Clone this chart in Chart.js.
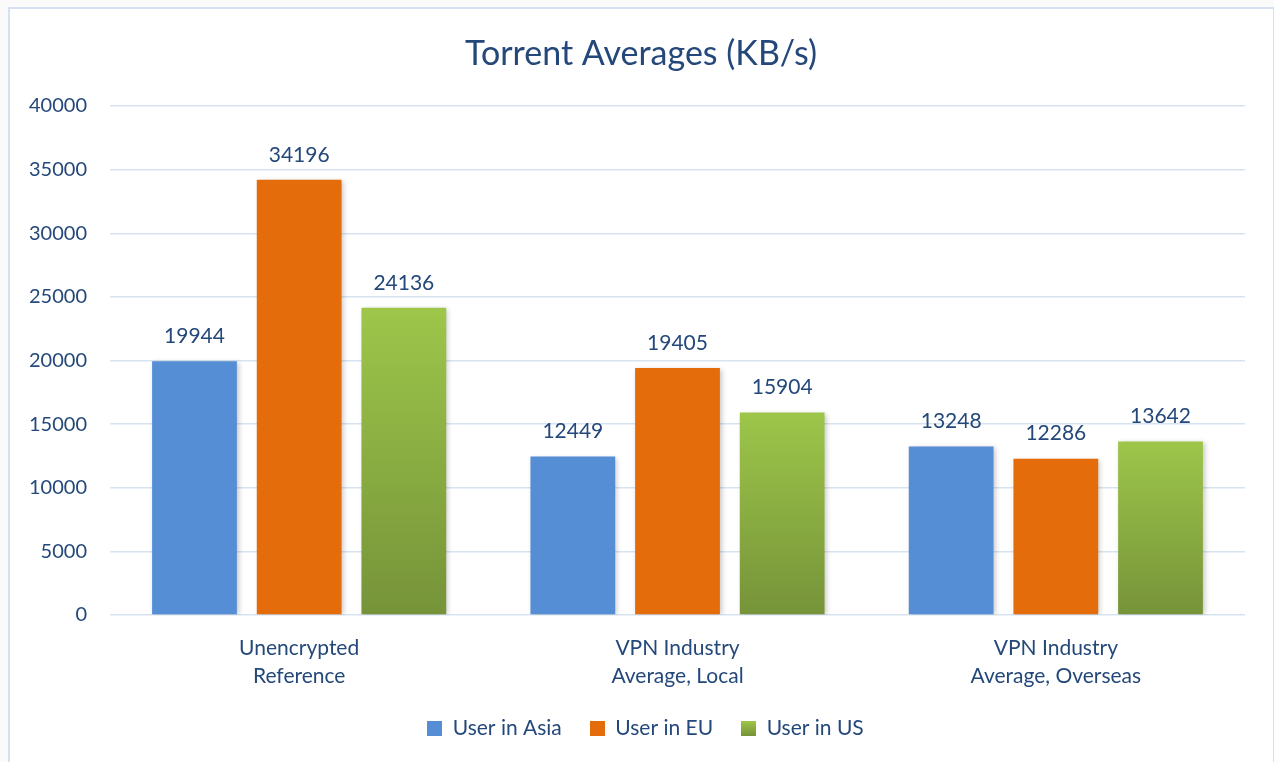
<!DOCTYPE html>
<html>
<head>
<meta charset="utf-8">
<script src="https://cdn.jsdelivr.net/npm/chart.js@4"></script>
<style>
  html, body { margin: 0; padding: 0; background: #fafafa; }
  #frame { position: absolute; left: 0; top: 0; width: 1274px; height: 762px; background: #fafafa; overflow: hidden; }
  #box { position: absolute; left: 8px; top: 7px; width: 1263px; height: 770px; border: 2px solid #d5e1f0; background: #ffffff; }
  #wrap { position: absolute; left: 0; top: 0; width: 1274px; height: 762px; }
</style>
</head>
<body>
<div id="frame">
  <div id="box"></div>
  <div id="wrap"><canvas id="c" width="1274" height="762"></canvas></div>
</div>
<script>
const categories = [["Unencrypted", "Reference"], ["VPN Industry", "Average, Local"], ["VPN Industry", "Average, Overseas"]];
const seriesNames = ["User in Asia", "User in EU", "User in US"];
const asiaValues = [19944, 12449, 13248];
const euValues = [34196, 19405, 12286];
const usValues = [24136, 15904, 13642];
const yTicks = [0, 5000, 10000, 15000, 20000, 25000, 30000, 35000, 40000];
const chartTitle = "Torrent Averages (KB/s)";

const FONT = "Lato, 'Open Sans', sans-serif";
const TEXT = "#24487a";
const GREEN_TOP = '#9dc64a';
const GREEN_BOTTOM = '#769339';

function greenGradient(ctx) {
  const chart = ctx.chart;
  if (!chart.chartArea || ctx.type !== 'data') return '#8db243';
  const y = chart.scales.y;
  const top = y.getPixelForValue(ctx.raw);
  const base = y.getPixelForValue(0);
  const g = chart.ctx.createLinearGradient(0, top, 0, base);
  g.addColorStop(0, GREEN_TOP);
  g.addColorStop(1, GREEN_BOTTOM);
  return g;
}

function swatch(fill, gradient) {
  const cv = document.createElement('canvas');
  cv.width = 15; cv.height = 15;
  const c = cv.getContext('2d');
  if (gradient) {
    const g = c.createLinearGradient(0, 0, 0, 15);
    g.addColorStop(0, GREEN_TOP);
    g.addColorStop(1, GREEN_BOTTOM);
    c.fillStyle = g;
  } else {
    c.fillStyle = fill;
  }
  c.fillRect(0, 0, 15, 15);
  return cv;
}
const swatches = [swatch('#558ed5'), swatch('#e46c0a'), swatch(null, true)];

const titlePlugin = {
  id: 'titleDraw',
  afterDraw(chart) {
    const c = chart.ctx;
    c.save();
    c.font = "34px " + FONT;
    c.fillStyle = TEXT;
    c.textAlign = 'center';
    c.textBaseline = 'middle';
    c.fillText(chartTitle, 641, 54);
    c.restore();
  }
};

const shadowPlugin = {
  id: 'barShadow',
  beforeDatasetsDraw(chart) {
    const c = chart.ctx;
    c.save();
    c.shadowColor = 'rgba(0,0,0,0.22)';
    c.shadowBlur = 5;
    c.shadowOffsetX = 2;
    c.shadowOffsetY = 1;
  },
  afterDatasetsDraw(chart) {
    chart.ctx.restore();
  }
};

const legendShift = {
  id: 'legendShift',
  beforeDraw(chart) {
    if (chart.legend) {
      chart.legend.left += 23;
      chart.legend.right += 23;
    }
  }
};

const labelPlugin = {
  id: 'valueLabels',
  afterDatasetsDraw(chart) {
    const c = chart.ctx;
    c.save();
    c.font = "21px " + FONT;
    c.fillStyle = TEXT;
    c.textAlign = 'center';
    c.textBaseline = 'middle';
    chart.data.datasets.forEach((ds, di) => {
      const meta = chart.getDatasetMeta(di);
      meta.data.forEach((bar, i) => {
        c.fillText(String(ds.data[i]), bar.x, bar.y - 25);
      });
    });
    c.restore();
  }
};

new Chart(document.getElementById('c'), {
  type: 'bar',
  data: {
    labels: categories,
    datasets: [
      { label: seriesNames[0], data: asiaValues, backgroundColor: '#558ed5' },
      { label: seriesNames[1], data: euValues, backgroundColor: '#e46c0a' },
      { label: seriesNames[2], data: usValues, backgroundColor: greenGradient }
    ]
  },
  options: {
    responsive: false,
    animation: false,
    devicePixelRatio: 1,
    layout: { padding: { left: 0, right: 29, top: 106, bottom: 13 } },
    datasets: { bar: { categoryPercentage: 0.83, barPercentage: 0.81 } },
    scales: {
      x: {
        grid: { display: false, drawTicks: false },
        border: { display: false },
        ticks: { color: TEXT, font: { family: FONT, size: 21, lineHeight: 1.33 }, padding: 19, maxRotation: 0 },
        afterFit(scale) { scale.height = 75; }
      },
      y: {
        min: 0, max: 40000,
        afterBuildTicks(scale) { scale.ticks = yTicks.map(v => ({ value: v })); },
        grid: { color: '#d8e3f1', lineWidth: 1.5, drawTicks: false },
        border: { display: false },
        ticks: { color: TEXT, font: { family: FONT, size: 20 }, padding: 23, callback: (v) => String(v) },
        afterFit(scale) { scale.width = 110; }
      }
    },
    plugins: {
      legend: {
        position: 'bottom',
        labels: {
          color: TEXT,
          font: { family: FONT, size: 21 },
          boxWidth: 15, boxHeight: 15,
          padding: 28,
          usePointStyle: true,
          generateLabels(chart) {
            const items = Chart.defaults.plugins.legend.labels.generateLabels(chart);
            items.forEach((it, i) => { it.pointStyle = swatches[i]; });
            return items;
          }
        }
      },
      tooltip: { enabled: false },
      title: { display: false }
    }
  },
  plugins: [shadowPlugin, labelPlugin, titlePlugin, legendShift]
});
</script>
</body>
</html>
